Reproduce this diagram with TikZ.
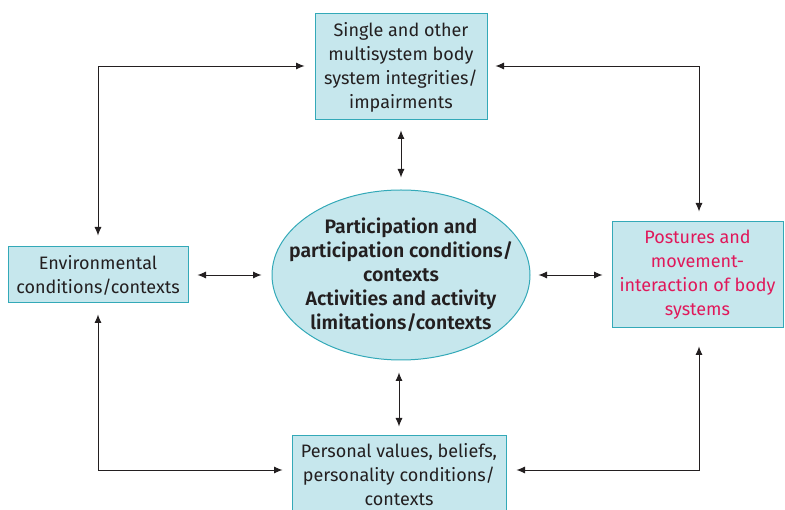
\documentclass[tikz,border=0pt]{standalone}
\usepackage{fontspec}
\setmainfont{Fira Sans}[BoldFont=Fira Sans SemiBold]
\usetikzlibrary{arrows.meta,shapes.geometric}
\definecolor{boxfill}{HTML}{C6E7ED}
\definecolor{boxline}{HTML}{33A9B8}
\definecolor{ink}{HTML}{231F20}
\definecolor{rose}{HTML}{E0185A}
\tikzset{
  infobox/.style={draw=boxline, fill=boxfill, line width=1pt, align=center,
    text=ink, inner sep=0pt, font=\fontsize{18}{24}\selectfont},
  hub/.style={ellipse, draw=boxline, fill=boxfill, line width=1pt, align=center,
    text=ink, inner xsep=-30pt, inner ysep=-2pt, font=\bfseries\fontsize{19.5}{24}\selectfont},
  link/.style={draw=ink, line width=0.8pt, {Latex[length=8.5pt,width=7pt]}-{Latex[length=8.5pt,width=7pt]}}
}
\begin{document}
\begin{tikzpicture}[x=1pt,y=-1pt]
\useasboundingbox (0,0) rectangle (785,510);

\node[hub, minimum width=258pt, minimum height=170pt] (hub) at (401,275)
  {Participation and\\participation conditions/\\contexts\\Activities and activity\\limitations/contexts};

\node[infobox, minimum width=172pt, minimum height=106pt] (body) at (401,67)
  {Single and other\\multisystem body\\system integrities/\\impairments};

\node[infobox, minimum width=180pt, minimum height=56pt] (env) at (98,275)
  {Environmental\\conditions/contexts};

\node[infobox, minimum width=171pt, minimum height=106pt, text=rose] (post) at (697.5,275)
  {Postures and\\movement-\\interaction of body\\systems};

\node[infobox, minimum width=214pt, minimum height=77pt] (pers) at (399,474.5)
  {Personal values, beliefs,\\personality conditions/\\contexts};

% links to and from the centre
\draw[link, shorten <=10pt, shorten >=12pt] (body.south) -- (hub.north);
\draw[link, shorten <=12pt, shorten >=9pt] (hub.south -| pers.north) -- (pers.north);
\draw[link, shorten <=9pt, shorten >=10pt] (env.east) -- (hub.west);
\draw[link, shorten <=8pt, shorten >=9pt] (hub.east) -- (post.west);

% links round the outside
\draw[link, shorten <=10pt, shorten >=11pt] ([yshift=1pt]body.west) -| (env.north);
\draw[link, shorten <=8pt, shorten >=10pt] ([yshift=1pt]body.east) -| ([xshift=1.5pt]post.north);
\draw[link, shorten <=11pt, shorten >=9pt] (env.south) |- ([yshift=4.5pt]pers.west);
\draw[link, shorten <=10pt, shorten >=18pt] ([yshift=4.5pt]pers.east) -| ([xshift=1.5pt]post.south);
\end{tikzpicture}
\end{document}
